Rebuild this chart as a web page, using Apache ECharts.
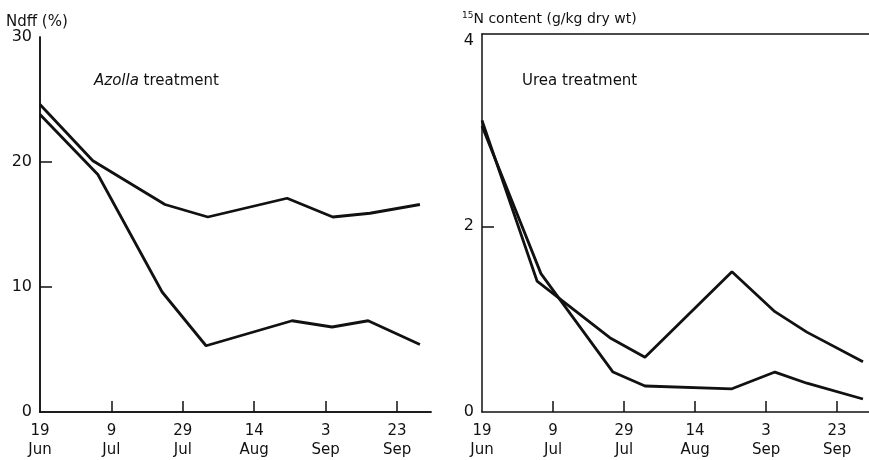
<!DOCTYPE html>
<html>
<head>
<meta charset="utf-8">
<script src="https://cdn.jsdelivr.net/npm/echarts@6/dist/echarts.min.js"></script>
<style>
  html, body { margin: 0; padding: 0; background: #fff; }
  #chart { width: 869px; height: 460px; }
</style>
</head>
<body>
<div id="chart"></div>
<script>
// x is the plotted position in days after 19 Jun (labelled ticks every 20)
const tickDays = [0, 20, 40, 60, 80, 100]
const tickNames = ['19\nJun', '9\nJul', '29\nJul', '14\nAug', '3\nSep', '23\nSep']
const ndffTicks = [0, 10, 20, 30]
const ureaTicks = [0, 2, 4]

// Azolla treatment, Ndff (%)
const azollaDaysA = [0, 14.8, 35, 47, 69.2, 82, 92.4, 106.4]
const azollaA = [24.6, 20.1, 16.6, 15.6, 17.1, 15.6, 15.9, 16.6]
const azollaDaysB = [0, 16.2, 34.2, 46.5, 70.6, 81.8, 91.9, 106.4]
const azollaB = [23.8, 19.0, 9.6, 5.3, 7.3, 6.8, 7.3, 5.4]

// Urea treatment, 15N content (g/kg dry wt)
const ureaDaysA = [0, 15.5, 36, 45.9, 70.4, 82.5, 91.5, 107.3]
const ureaA = [3.14, 1.41, 0.80, 0.59, 1.51, 1.08, 0.86, 0.54]
const ureaDaysB = [0, 16.6, 36.9, 45.9, 70.4, 82.5, 91.5, 107.3]
const ureaB = [3.08, 1.49, 0.43, 0.28, 0.25, 0.43, 0.31, 0.14]

const ink = '#111'
const font = 'DejaVu Sans'

function pairs(xs, ys) {
  return xs.map((x, i) => [x, ys[i]])
}

function bottomAxis(gridIndex, max) {
  return {
    type: 'value', gridIndex, min: 0, max,
    axisLine: { lineStyle: { color: ink, width: 1.5 } },
    axisTick: {
      inside: true, length: 11, customValues: tickDays.slice(1),
      lineStyle: { color: ink, width: 1.5 }
    },
    axisLabel: {
      color: ink, fontFamily: font, fontSize: 15, lineHeight: 19, margin: 10,
      customValues: tickDays,
      formatter: v => tickNames[tickDays.indexOf(v)] || ''
    },
    splitLine: { show: false }
  }
}

function frameAxis(gridIndex, max, pos) {
  return {
    type: 'value', gridIndex, min: 0, max, position: pos,
    axisLine: { show: true, lineStyle: { color: ink, width: 1.5 } },
    axisTick: { show: false },
    axisLabel: { show: false },
    splitLine: { show: false }
  }
}

function leftAxis(gridIndex, max, ticks) {
  return {
    type: 'value', gridIndex, min: 0, max,
    axisLine: { show: true, lineStyle: { color: ink, width: 1.5 } },
    axisTick: {
      inside: true, length: 12, customValues: ticks.slice(1, -1),
      lineStyle: { color: ink, width: 1.5 }
    },
    axisLabel: { color: ink, fontFamily: font, fontSize: 16, margin: 8, customValues: ticks },
    splitLine: { show: false }
  }
}

function line(xi, yi, data) {
  return {
    type: 'line', xAxisIndex: xi, yAxisIndex: yi, data,
    showSymbol: false, symbol: 'none',
    lineStyle: { color: ink, width: 2.8 },
    silent: true
  }
}

const chart = echarts.init(document.getElementById('chart'))
chart.setOption({
  animation: false,
  backgroundColor: '#fff',
  grid: [
    { left: 40, right: 438, top: 37, bottom: 47 },
    { left: 482, right: 0, top: 34, bottom: 48 }
  ],
  xAxis: [
    bottomAxis(0, 109.5),
    frameAxis(0, 109.5, 'top'),
    bottomAxis(1, 109),
    frameAxis(1, 109, 'top')
  ],
  yAxis: [
    leftAxis(0, 30, ndffTicks),
    frameAxis(0, 30, 'right'),
    leftAxis(1, 4.07, ureaTicks)
  ],
  graphic: [
    { type: 'text', left: 6, top: 15, style: { text: 'Ndff (%)', fill: ink, font: '15px ' + font } },
    {
      type: 'text', left: 462, top: 11,
      style: {
        text: '{s|15}N content (g/kg dry wt)',
        fill: ink, font: '14px ' + font,
        rich: { s: { fontSize: 9, verticalAlign: 'top', padding: [0, 0, 8, 0], fontFamily: font } }
      }
    },
    {
      type: 'text', left: 94, top: 74,
      style: {
        text: '{i|Azolla} treatment', fill: ink, font: '15px ' + font,
        rich: { i: { fontStyle: 'italic', fontSize: 15, fontFamily: font } }
      }
    },
    { type: 'text', left: 522, top: 74, style: { text: 'Urea treatment', fill: ink, font: '15px ' + font } }
  ],
  series: [
    line(0, 0, pairs(azollaDaysA, azollaA)),
    line(0, 0, pairs(azollaDaysB, azollaB)),
    line(2, 2, pairs(ureaDaysA, ureaA)),
    line(2, 2, pairs(ureaDaysB, ureaB))
  ]
})
</script>
</body>
</html>
